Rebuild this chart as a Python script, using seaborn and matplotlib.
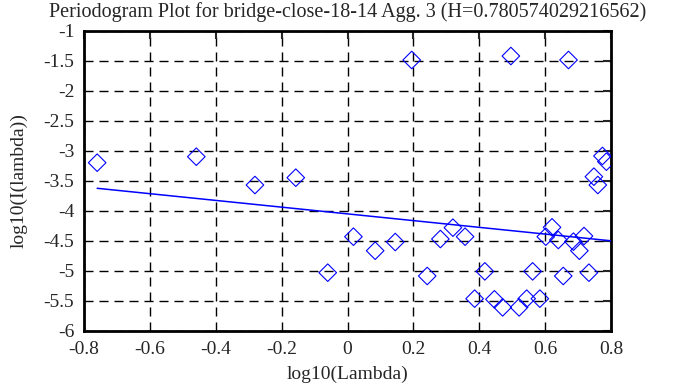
import numpy as np
import pandas as pd
import matplotlib
matplotlib.use('Agg')
import matplotlib.pyplot as plt
import seaborn as sns

# values
log_lambda = [-0.760, -0.459, -0.281, -0.157, -0.060, 0.018, 0.084, 0.145,
              0.195, 0.242, 0.282, 0.320, 0.357, 0.386, 0.417, 0.446,
              0.471, 0.496, 0.521, 0.544, 0.562, 0.584, 0.602, 0.621,
              0.640, 0.655, 0.671, 0.686, 0.704, 0.718, 0.733, 0.748,
              0.760, 0.774, 0.786]
log_I = [-3.195, -3.095, -3.567, -3.445, -5.028, -4.428, -4.662, -4.517,
         -1.483, -5.083, -4.467, -4.278, -4.428, -5.461, -5.006, -5.472,
         -5.606, -1.417, -5.606, -5.461, -5.006, -5.461, -4.428, -4.272,
         -4.483, -5.083, -1.483, -4.511, -4.662, -4.417, -5.028, -3.428,
         -3.567, -3.083, -3.178]

H = 0.780574029216562
slope = 1 - 2 * H
intercept = -4.048

title = 'Periodogram Plot for bridge-close-18-14 Agg. 3 (H=0.780574029216562)'
xticks = [-0.8, -0.6, -0.4, -0.2, 0, 0.2, 0.4, 0.6, 0.8]
xtick_labels = ['-0.8', '-0.6', '-0.4', '-0.2', '0', '0.2', '0.4', '0.6', '0.8']
yticks = [-1, -1.5, -2, -2.5, -3, -3.5, -4, -4.5, -5, -5.5, -6]
ytick_labels = ['-1', '-1.5', '-2', '-2.5', '-3', '-3.5', '-4', '-4.5', '-5', '-5.5', '-6']

sns.set_style('white')
plt.rcParams['font.family'] = ['Liberation Serif', 'DejaVu Serif']
plt.rcParams['axes.unicode_minus'] = False

df = pd.DataFrame({'x': log_lambda, 'y': log_I})

fig = plt.figure(figsize=(6.95, 3.87), dpi=100)
ax = fig.add_axes([84 / 695, 1 - 331 / 387, 527 / 695, 300 / 387])

ax.set_xlim(-0.8, 0.8)
ax.set_ylim(-6, -1)

fit_x = np.array([min(log_lambda), ax.get_xlim()[1]])
fit = pd.DataFrame({'x': fit_x, 'y': intercept + slope * fit_x})

sns.scatterplot(data=df, x='x', y='y', ax=ax, marker='D', s=80,
                facecolor='none', edgecolor='blue', linewidth=0.8, zorder=3)
sns.lineplot(data=fit, x='x', y='y', ax=ax, color='blue', linewidth=1.1, zorder=4)

ax.set_xticks(xticks, labels=xtick_labels)
ax.set_yticks(yticks, labels=ytick_labels)
ax.grid(True, color='black', linestyle=(0, (6.5, 4.3)), linewidth=1)
ax.set_axisbelow(True)
for s in ax.spines.values():
    s.set_linewidth(2)
    s.set_color('black')
ax.tick_params(direction='in', length=6, width=1.5, top=True, right=True,
               labelsize=14, pad=7)

ax.set_xlabel('log10(Lambda)', fontsize=14, labelpad=6)
ax.set_ylabel('log10(I(lambda))', fontsize=14, labelpad=11)
ax.set_title(title, fontsize=14.5, pad=10)

fig.savefig('out.png', dpi=100)
